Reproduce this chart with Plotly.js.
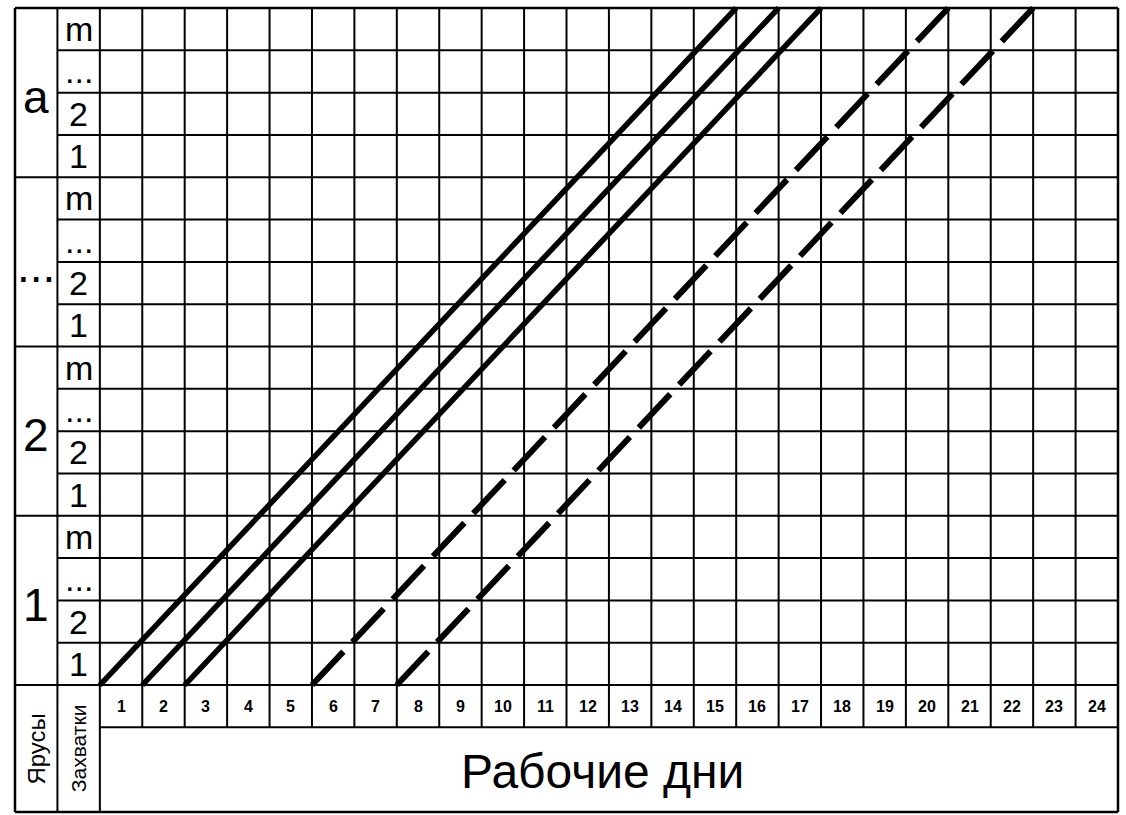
<!DOCTYPE html>
<html>
<head>
<meta charset="utf-8">
<script src="https://cdn.plot.ly/plotly-3.0.1.min.js"></script>
<style>html,body{margin:0;padding:0;background:#fff;}#chart{width:1126px;height:815px;}</style>
</head>
<body>
<div id="chart"></div>
<script>
// ---- data ----
var tierLabels = ["1", "2", "...", "a"];          // Ярусы (bottom to top)
var gripLabels = ["1", "2", "...", "m"];          // Захватки within each tier
var dayLabels = ["1","2","3","4","5","6","7","8","9","10","11","12","13","14","15","16","17","18","19","20","21","22","23","24"];
var lineStartDays = [0, 1, 2, 5, 7];              // day boundary where each flow starts (bottom grip)
var lineEndDays   = [15, 16, 17, 20, 22];         // day boundary where each flow reaches the top grip
var lineDashed    = [false, false, false, true, true];
var xTitle = "Рабочие дни";
var tierTitle = "Ярусы";
var gripTitle = "Захватки";

// ---- geometry ----
var W = 1126, H = 815;
var nDays = dayLabels.length;
var nRows = tierLabels.length * gripLabels.length;
var mL = 10, mR = 3, mT = 4, mB = 1;
var pw = W - mL - mR, ph = H - mT - mB;
var bLeft = 15, bRight = 1118, bTop = 8, bBottom = 812;   // table border in px
var ux = (bRight - bLeft) / (nDays + 2);
var uy = (bBottom - bTop) / (nRows + 3);
var xmin = -2 - (bLeft - mL) / ux, xmax = xmin + pw / ux;
var ymax = nRows + (bTop - mT) / uy, ymin = ymax - ph / uy;

var black = "#000";
var shapes = [];
function seg(x0, y0, x1, y1, w) {
  shapes.push({type: "line", xref: "x", yref: "y", x0: x0, y0: y0, x1: x1, y1: y1,
    line: {color: black, width: w}});
}
// outer border
seg(-2, -3, -2, nRows, 2.5);
seg(nDays, -3, nDays, nRows, 2.5);
seg(-2, nRows, nDays, nRows, 2.5);
seg(-2, -3, nDays, -3, 2.5);
// label column separators
seg(-1, -3, -1, nRows, 2);
seg(0, -3, 0, nRows, 2);
// day column separators (grid + day label row)
for (var d = 1; d < nDays; d++) seg(d, -1, d, nRows, 2);
// horizontal lines
for (var r = 0; r < nRows; r++) {
  var isTier = (r % gripLabels.length === 0);
  seg(isTier ? -2 : -1, r, nDays, r, 2);
}
seg(0, -1, nDays, -1, 2);

// ---- annotations ----
var fam = "Liberation Sans, Arial, sans-serif";
var ann = [];
for (var t = 0; t < tierLabels.length; t++) {
  ann.push({x: -1.5, y: t * gripLabels.length + gripLabels.length / 2 - 0.1, text: tierLabels[t],
    showarrow: false, xanchor: "center", yanchor: "middle",
    font: {family: fam, size: 46, color: black}});
  for (var g = 0; g < gripLabels.length; g++) {
    ann.push({x: -0.5, y: t * gripLabels.length + g + 0.5, text: gripLabels[g],
      showarrow: false, xanchor: "center", yanchor: "middle",
      font: {family: fam, size: 34, color: black}});
  }
}
for (var d2 = 0; d2 < nDays; d2++) {
  ann.push({x: d2 + 0.5, y: -0.5, text: "<b>" + dayLabels[d2] + "</b>", showarrow: false,
    xanchor: "center", yanchor: "middle", font: {family: fam, size: 16, color: black}});
}
ann.push({x: nDays / 2 - 0.15, y: -2.05, text: xTitle, showarrow: false, xanchor: "center", yanchor: "middle",
  font: {family: fam, size: 48, color: black}});
ann.push({x: -1.5, y: -1.52, text: tierTitle, showarrow: false, textangle: -90, xanchor: "center", yanchor: "middle",
  font: {family: fam, size: 24, color: black}});
ann.push({x: -0.5, y: -1.5, text: gripTitle, showarrow: false, textangle: -90, xanchor: "center", yanchor: "middle",
  font: {family: fam, size: 21, color: black}});

// ---- flow lines ----
var traces = [];
for (var i = 0; i < lineStartDays.length; i++) {
  var dxRow = (lineEndDays[i] - lineStartDays[i]) / nRows * ux;
  var L = Math.sqrt(dxRow * dxRow + uy * uy);
  var dash = "solid", width = 5.5;
  if (lineDashed[i]) {
    var dl = 0.79 * L;
    var gl = nRows * (L - dl) / (nRows - 1);
    dash = dl.toFixed(2) + "px," + gl.toFixed(2) + "px";
    width = 6;
  }
  traces.push({type: "scatter", mode: "lines", x: [lineStartDays[i], lineEndDays[i]], y: [0, nRows],
    line: {color: black, width: width, dash: dash}, hoverinfo: "skip", showlegend: false, cliponaxis: false});
}

var layout = {
  width: W, height: H,
  margin: {l: mL, r: mR, t: mT, b: mB, pad: 0},
  paper_bgcolor: "#fff", plot_bgcolor: "#fff",
  xaxis: {range: [xmin, xmax], visible: false, fixedrange: true},
  yaxis: {range: [ymin, ymax], visible: false, fixedrange: true},
  shapes: shapes, annotations: ann, showlegend: false
};
Plotly.newPlot("chart", traces, layout, {staticPlot: true});
</script>
</body>
</html>
